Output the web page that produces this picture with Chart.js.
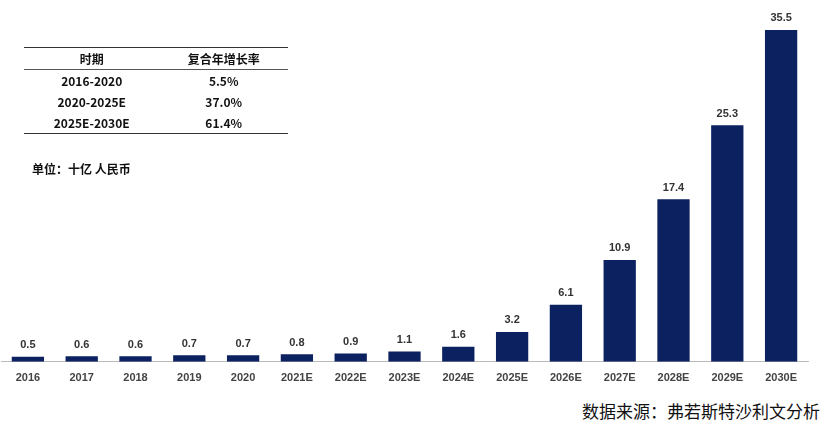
<!DOCTYPE html>
<html><head><meta charset="utf-8">
<script src="https://cdn.jsdelivr.net/npm/chart.js@4"></script>
<style>
body{margin:0;width:832px;height:439px;background:#fff;font-family:"Noto Sans CJK SC","Noto Sans",sans-serif;position:relative;overflow:hidden}
#wrap{position:absolute;left:0;top:0;width:832px;height:395px}
#tbl{position:absolute;left:24px;top:47px;width:264px;border-collapse:collapse;font-size:12px;font-weight:bold;color:#111}
#tbl td{text-align:center;height:21px;padding:0}
#tbl tr:first-child td{border-top:1.5px solid #333;border-bottom:1px solid #555}
#tbl tr:last-child td{border-bottom:1.5px solid #333}
#unit{position:absolute;left:32px;top:160px;font-size:12px;font-weight:bold;color:#111}
#src{position:absolute;right:12px;top:398px;font-size:17px;color:#111}
</style></head><body>
<div id="wrap"><canvas id="c"></canvas></div>
<table id="tbl"></table>
<div id="unit">单位：十亿 人民币</div>
<div id="src">数据来源：弗若斯特沙利文分析</div>
<script>
const anios = ['2016','2017','2018','2019','2020','2021E','2022E','2023E','2024E','2025E','2026E','2027E','2028E','2029E','2030E'];
const valores = [0.5,0.6,0.6,0.7,0.7,0.8,0.9,1.1,1.6,3.2,6.1,10.9,17.4,25.3,35.5];
const periodos = ['2016-2020','2020-2025E','2025E-2030E'];
const tasas = ['5.5%','37.0%','61.4%'];

const tabla = document.getElementById('tbl');
tabla.innerHTML = '<tr><td>时期</td><td>复合年增长率</td></tr>' +
    periodos.map((p, i) => `<tr><td>${p}</td><td>${tasas[i]}</td></tr>`).join('');

const etiquetas = {
    id: 'etiquetas',
    afterDatasetsDraw(chart) {
        const ctx = chart.ctx;
        ctx.save();
        ctx.font = 'bold 11px "Liberation Sans", Arial';
        ctx.fillStyle = '#333';
        ctx.textAlign = 'center';
        ctx.textBaseline = 'bottom';
        chart.getDatasetMeta(0).data.forEach((bar, i) => {
            ctx.fillText(valores[i].toFixed(1), bar.x, bar.y - 6);
        });
        ctx.restore();
    }
};

new Chart(document.getElementById('c'), {
    type: 'bar',
    data: { labels: anios, datasets: [{ data: valores, backgroundColor: '#0b2160', categoryPercentage: 1, barPercentage: 0.6, minBarLength: 5 }] },
    options: {
        responsive: true,
        maintainAspectRatio: false,
        animation: false,
        plugins: { legend: { display: false }, tooltip: { enabled: false } },
        layout: { padding: { left: 1, right: 24, top: 0, bottom: 0 } },
        scales: {
            x: {
                grid: { display: false, drawTicks: false },
                border: { color: '#bbb' },
                ticks: { color: '#444', font: { family: '"Liberation Sans", Arial', size: 11, weight: 'bold' }, padding: 10 }
            },
            y: { display: false, min: 0, max: 38.7 }
        }
    },
    plugins: [etiquetas]
});
</script>
</body></html>
